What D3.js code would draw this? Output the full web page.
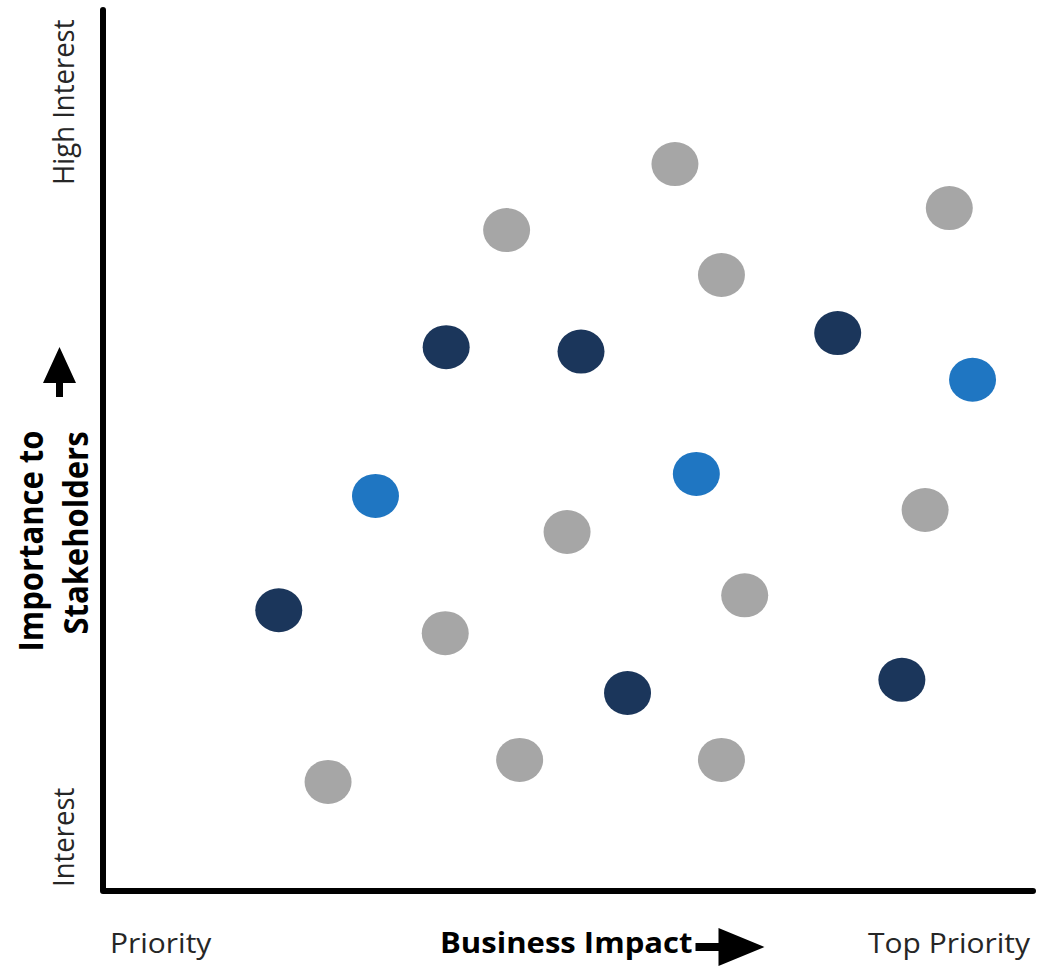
<!DOCTYPE html>
<html>
<head>
<meta charset="utf-8">
<script src="https://cdn.jsdelivr.net/npm/d3@7"></script>
<style>
  html, body { margin: 0; padding: 0; background: #fff; }
  svg { display: block; }
  text { font-family: "Open Sans", "Noto Sans", sans-serif; }
</style>
</head>
<body>
<svg id="chart" width="1039" height="966"></svg>
<script>
// Issue positions on a 0–100 grid: [business impact, importance to stakeholders]
const otherIssues = [
  [61.5, 82.6], [43.4, 75.1], [91.0, 77.6], [66.5, 70.0],
  [49.9, 40.8], [88.4, 43.3], [69.0, 33.6], [36.8, 29.3],
  [44.8, 14.9], [66.5, 14.9], [24.2, 12.4]
];
const priorityIssues = [
  [36.9, 61.8], [51.4, 61.3], [79.0, 63.4],
  [18.9, 31.9], [56.4, 22.5], [85.9, 24.0]
];
const focusIssues = [
  [93.5, 58.1], [29.3, 44.9], [63.8, 47.4]
];

const groupNames  = ["other", "priority", "focus"];
const groupColors = ["#a6a6a6", "#1b365b", "#1f76c2"];

const xAxisLabels = ["Priority", "Business Impact", "Top Priority"];
const yAxisLabels = ["Interest", "High Interest"];
const yTitleLines = ["Importance to", "Stakeholders"];

const svg = d3.select("#chart");
const origin = { x: 103, y: 891 };
const plotRight = 1033, plotTop = 11;
const stretch = 1.09;   // labels are set slightly wide

const x = d3.scaleLinear().domain([0, 100]).range([origin.x, plotRight]);
const y = d3.scaleLinear().domain([0, 100]).range([origin.y, plotTop]);

// Issue bubbles
const groups = [otherIssues, priorityIssues, focusIssues];
groups.forEach((pts, gi) => {
  svg.append("g").attr("class", "issues " + groupNames[gi])
    .selectAll("ellipse")
    .data(pts)
    .join("ellipse")
      .attr("cx", d => x(d[0]))
      .attr("cy", d => y(d[1]))
      .attr("rx", 23.5)
      .attr("ry", 22)
      .attr("fill", groupColors[gi]);
});

// Axis lines
const axes = svg.append("g").attr("fill", "none").attr("stroke", "#000")
  .attr("stroke-width", 6).attr("stroke-linecap", "round").attr("stroke-linejoin", "round");
axes.append("path")
  .attr("d", d3.line()([[x(0), y(100) - 1], [x(0), y(0)], [x(100), y(0)]]));

// Y-axis end labels (rotated)
const yEnd = svg.append("g").attr("fill", "#262626").attr("font-size", 27.5);
yEnd.append("text")
  .attr("transform", `translate(74,887) scale(${stretch},1) rotate(-90)`)
  .attr("text-anchor", "start")
  .text(yAxisLabels[0]);
yEnd.append("text")
  .attr("transform", `translate(74,185) scale(${stretch},1) rotate(-90)`)
  .attr("text-anchor", "start")
  .text(yAxisLabels[1]);

// Y-axis title, two lines, with an upward arrow
const yTitle = svg.append("g").attr("fill", "#000").attr("font-size", 31).attr("font-weight", 700);
const titlePos = [[43, 541], [88, 533]];
yTitleLines.forEach((t, i) => {
  yTitle.append("text")
    .attr("transform", `translate(${titlePos[i][0]},${titlePos[i][1]}) scale(${stretch},1) rotate(-90)`)
    .attr("text-anchor", "middle")
    .text(t);
});
svg.append("path")
  .attr("fill", "#000")
  .attr("d", "M59.5,347 L76,383 L63,383 L63,397 L56,397 L56,383 L43,383 Z");

// X-axis labels
const xl = svg.append("g").attr("font-size", 27.5);
xl.append("text")
  .attr("transform", `translate(110,953) scale(${stretch},1)`)
  .attr("fill", "#262626")
  .text(xAxisLabels[0]);
const bi = xl.append("text")
  .attr("transform", `translate(440,953) scale(${stretch},1)`)
  .attr("fill", "#000")
  .attr("font-size", 28.5)
  .attr("font-weight", 700)
  .text(xAxisLabels[1]);
xl.append("text")
  .attr("transform", `translate(1030,953) scale(${stretch},1)`)
  .attr("text-anchor", "end")
  .attr("fill", "#262626")
  .text(xAxisLabels[2]);

// Right arrow after the x-axis title
const ax0 = 440 + bi.node().getComputedTextLength() * stretch + 3;
svg.append("path")
  .attr("fill", "#000")
  .attr("d", `M${ax0},943 L${ax0 + 23},943 L${ax0 + 23},928 L${ax0 + 69},947 L${ax0 + 23},966 L${ax0 + 23},951 L${ax0},951 Z`);
</script>
</body>
</html>
